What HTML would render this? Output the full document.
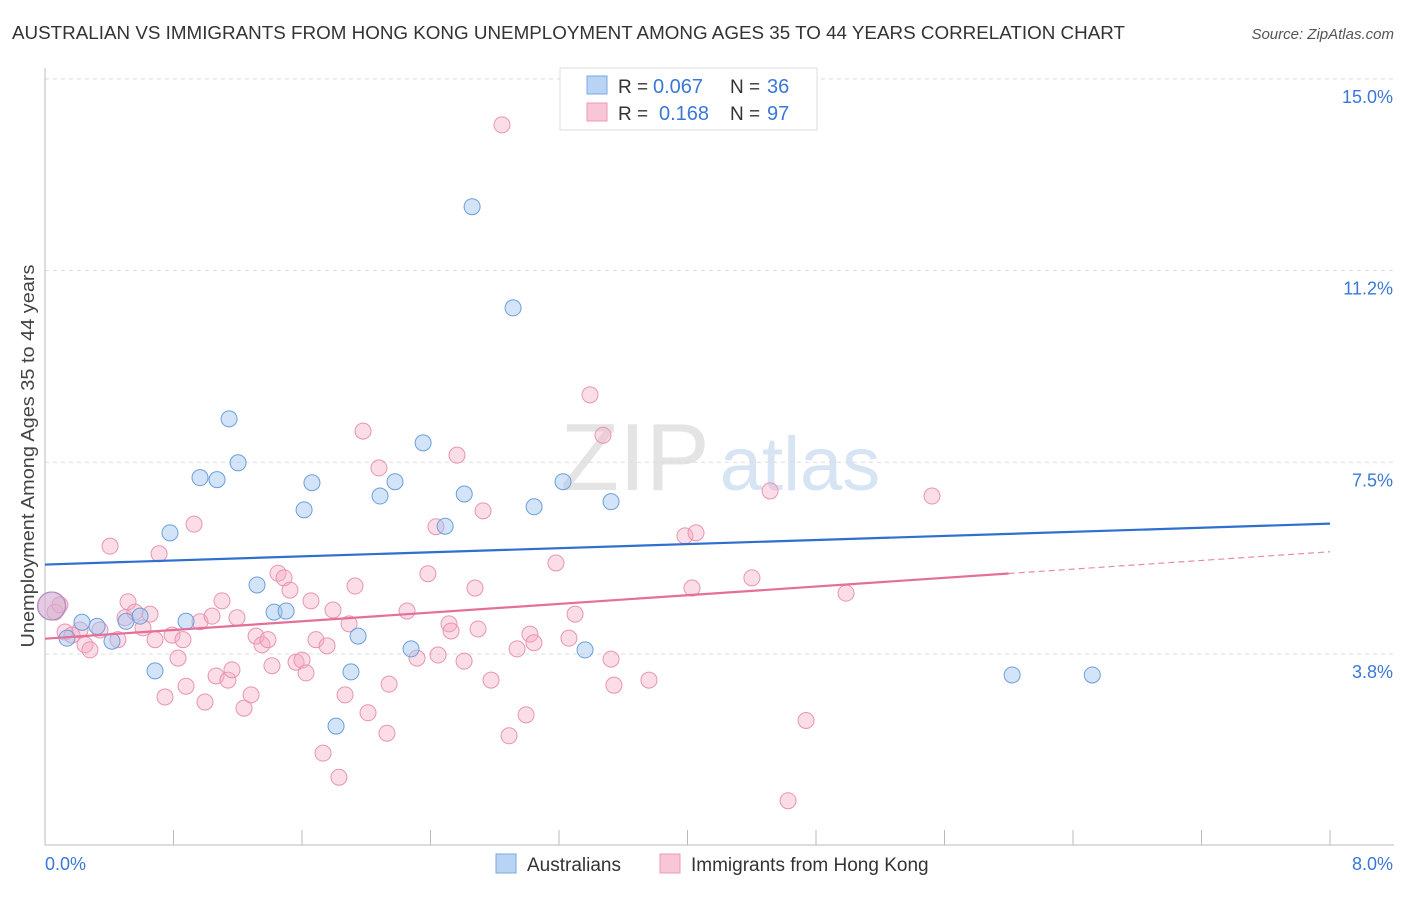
<!DOCTYPE html>
<html><head><meta charset="utf-8"><style>
body{margin:0;background:#fff;font-family:"Liberation Sans",sans-serif}
svg text{font-family:"Liberation Sans",sans-serif}
</style></head><body>
<svg id="chart" width="1406" height="892" xmlns="http://www.w3.org/2000/svg">
<text x="12" y="39" font-size="18" fill="#333" textLength="1113" lengthAdjust="spacingAndGlyphs">AUSTRALIAN VS IMMIGRANTS FROM HONG KONG UNEMPLOYMENT AMONG AGES 35 TO 44 YEARS CORRELATION CHART</text>
<text x="1394" y="39" font-size="15" fill="#555" text-anchor="end" font-style="italic">Source: ZipAtlas.com</text>
<g>
<text x="635" y="490" font-size="96" fill="#e4e4e4" font-family="Liberation Serif,serif" text-anchor="middle">ZIP</text>
<text x="800" y="490" font-size="76" fill="#d6e4f4" text-anchor="middle">atlas</text>
</g>
<g id="grid"></g>
<g id="axes"></g>
<g id="marks"></g>
<text transform="translate(34,456) rotate(-90)" font-size="18" fill="#444" text-anchor="middle" textLength="383" lengthAdjust="spacingAndGlyphs">Unemployment Among Ages 35 to 44 years</text>
<g>
<rect x="560" y="68" width="257" height="62" fill="#fff" stroke="#ddd"/>
<rect x="587" y="76" width="20" height="18" fill="#b8d3f4" stroke="#7aa8e0"/>
<rect x="587" y="103" width="20" height="18" fill="#f8c6d6" stroke="#ea9ab6"/>
<text x="618" y="93" font-size="19" fill="#333">R =</text>
<text x="653" y="93" font-size="20" fill="#3a78d8">0.067</text>
<text x="730" y="93" font-size="19" fill="#333">N =</text>
<text x="767" y="93" font-size="20" fill="#3a78d8">36</text>
<text x="618" y="120" font-size="19" fill="#333">R =</text>
<text x="659" y="120" font-size="20" fill="#3a78d8">0.168</text>
<text x="730" y="120" font-size="19" fill="#333">N =</text>
<text x="767" y="120" font-size="20" fill="#3a78d8">97</text>
</g>
<g>
<rect x="496" y="854" width="20" height="19" fill="#b8d3f4" stroke="#7aa8e0"/>
<text x="527" y="871" font-size="19" fill="#333">Australians</text>
<rect x="660" y="854" width="20" height="19" fill="#f8c6d6" stroke="#ea9ab6"/>
<text x="691" y="871" font-size="19" fill="#333">Immigrants from Hong Kong</text>
</g>
</svg>
<script>
const yTicks=[3.75,7.5,11.25,15];
const yTickLabels=["3.8%","7.5%","11.2%","15.0%"];
const xTickVals=[0,0.8,1.6,2.4,3.2,4,4.8,5.6,6.4,7.2,8];
const blueX=[0.04,0.137,0.23,0.324,0.417,0.505,0.592,0.685,0.778,0.878,0.965,1.071,1.146,1.202,1.32,1.426,1.501,1.613,1.662,1.812,1.905,1.949,2.086,2.179,2.279,2.354,2.491,2.61,2.659,2.914,3.045,3.225,3.362,3.524,6.021,6.52];
const blueY=[4.69,4.06,4.37,4.29,4.0,4.39,4.49,3.42,6.12,4.39,7.2,7.16,8.35,7.49,5.1,4.57,4.59,6.57,7.1,2.34,3.4,4.1,6.84,7.12,3.85,7.88,6.25,6.88,12.5,10.52,6.63,7.12,3.83,6.73,3.34,3.34];
const pinkX=[0.044,0.062,0.093,0.125,0.168,0.218,0.249,0.280,0.342,0.405,0.454,0.498,0.517,0.560,0.610,0.654,0.685,0.710,0.747,0.791,0.828,0.859,0.878,0.928,0.965,0.996,1.040,1.065,1.102,1.139,1.164,1.195,1.239,1.283,1.314,1.351,1.388,1.413,1.451,1.488,1.525,1.563,1.600,1.625,1.656,1.687,1.731,1.756,1.793,1.830,1.868,1.893,1.930,1.980,2.011,2.079,2.142,2.129,2.254,2.316,2.384,2.434,2.447,2.515,2.528,2.565,2.609,2.677,2.696,2.727,2.777,2.845,2.889,2.939,2.995,3.019,3.044,3.181,3.262,3.300,3.393,3.474,3.524,3.542,3.760,3.984,4.028,4.053,4.401,4.514,4.626,4.738,4.987,5.522];
const pinkY=[4.69,4.57,4.71,4.18,4.12,4.22,3.93,3.83,4.22,5.86,4.03,4.46,4.77,4.57,4.26,4.53,4.03,5.71,2.91,4.12,3.67,4.03,3.12,6.29,4.38,2.81,4.49,3.32,4.79,3.24,3.44,4.46,2.69,2.95,4.10,3.93,4.03,3.52,5.33,5.24,5.00,3.59,3.63,3.38,4.79,4.03,1.81,3.91,4.61,1.34,2.95,4.34,5.08,8.11,2.60,7.39,3.16,2.20,4.59,3.67,5.32,6.24,3.73,4.34,4.20,7.64,3.61,5.04,4.24,6.55,3.24,14.10,2.15,3.85,2.56,4.14,3.97,5.53,4.06,4.53,8.82,8.03,3.65,3.14,3.24,6.06,5.04,6.12,5.24,6.94,0.88,2.45,4.94,6.84];
const blueLine=[5.5,6.3];
const pinkLine=[4.05,5.75];
const NS="http://www.w3.org/2000/svg";
const X0=45,X1=1330,Y0=845.7,PPY=51.12;
function sx(v){return X0+(X1-X0)*v/8;}
function sy(v){return Y0-v*PPY;}
function mk(tag,attrs,parent){const e=document.createElementNS(NS,tag);for(const k in attrs)e.setAttribute(k,attrs[k]);parent.appendChild(e);return e;}
const grid=document.getElementById('grid'),axes=document.getElementById('axes'),marks=document.getElementById('marks');
yTicks.forEach((t,i)=>{
 const l=mk('line',{x1:45,x2:1394,y1:sy(t),y2:sy(t),stroke:'#ddd','stroke-dasharray':'4,4'},grid);
 
 
 const tx=mk('text',{x:1393,y:sy(t)+24,'font-size':18,fill:'#3a78d8','text-anchor':'end'},axes);
 tx.textContent=yTickLabels[i];
 
 
});
const topl=mk('line',{x1:45,x2:1394,y1:79,y2:79,stroke:'#ddd','stroke-dasharray':'4,4'},grid);


const xa=mk('line',{x1:45,x2:1394,y1:845,y2:845,stroke:'#bbb'},axes);


const ya=mk('line',{x1:45,x2:45,y1:68,y2:845,stroke:'#bbb'},axes);


xTickVals.forEach(t=>{
 const l=mk('line',{x1:sx(t),x2:sx(t),y1:830,y2:845,stroke:'#bbb'},axes);
 
 
});
const xl0=mk('text',{x:45,y:870,'font-size':18,fill:'#3a78d8'},axes);xl0.textContent='0.0%';


const xl1=mk('text',{x:1393,y:870,'font-size':18,fill:'#3a78d8','text-anchor':'end'},axes);xl1.textContent='8.0%';


pinkX.forEach((x,i)=>{
 const c=mk('circle',{cx:sx(x),cy:sy(pinkY[i]),r:i==0?14:8,fill:'rgba(244,170,196,0.4)',stroke:'#e994b2','stroke-width':1},marks);
 
 
});
blueX.forEach((x,i)=>{
 const c=mk('circle',{cx:sx(x),cy:sy(blueY[i]),r:i==0?14:8,fill:i==0?'rgba(200,180,220,0.45)':'rgba(160,196,240,0.45)',stroke:i==0?'#a090c8':'#6a9fdc','stroke-width':1},marks);
 
 
});
const bl=mk('line',{x1:sx(0),y1:sy(blueLine[0]),x2:sx(8),y2:sy(blueLine[1]),stroke:'#2f6fd0','stroke-width':2.2},marks);


const pm=pinkLine[0]+(pinkLine[1]-pinkLine[0])*6/8;
const pl=mk('line',{x1:sx(0),y1:sy(pinkLine[0]),x2:sx(6),y2:sy(pm),stroke:'#e46f98','stroke-width':2.2},marks);


const pd=mk('line',{x1:sx(6),y1:sy(pm),x2:sx(8),y2:sy(pinkLine[1]),stroke:'#e88aa8','stroke-width':1.2,'stroke-dasharray':'6,4'},marks);


</script>
</body></html>
